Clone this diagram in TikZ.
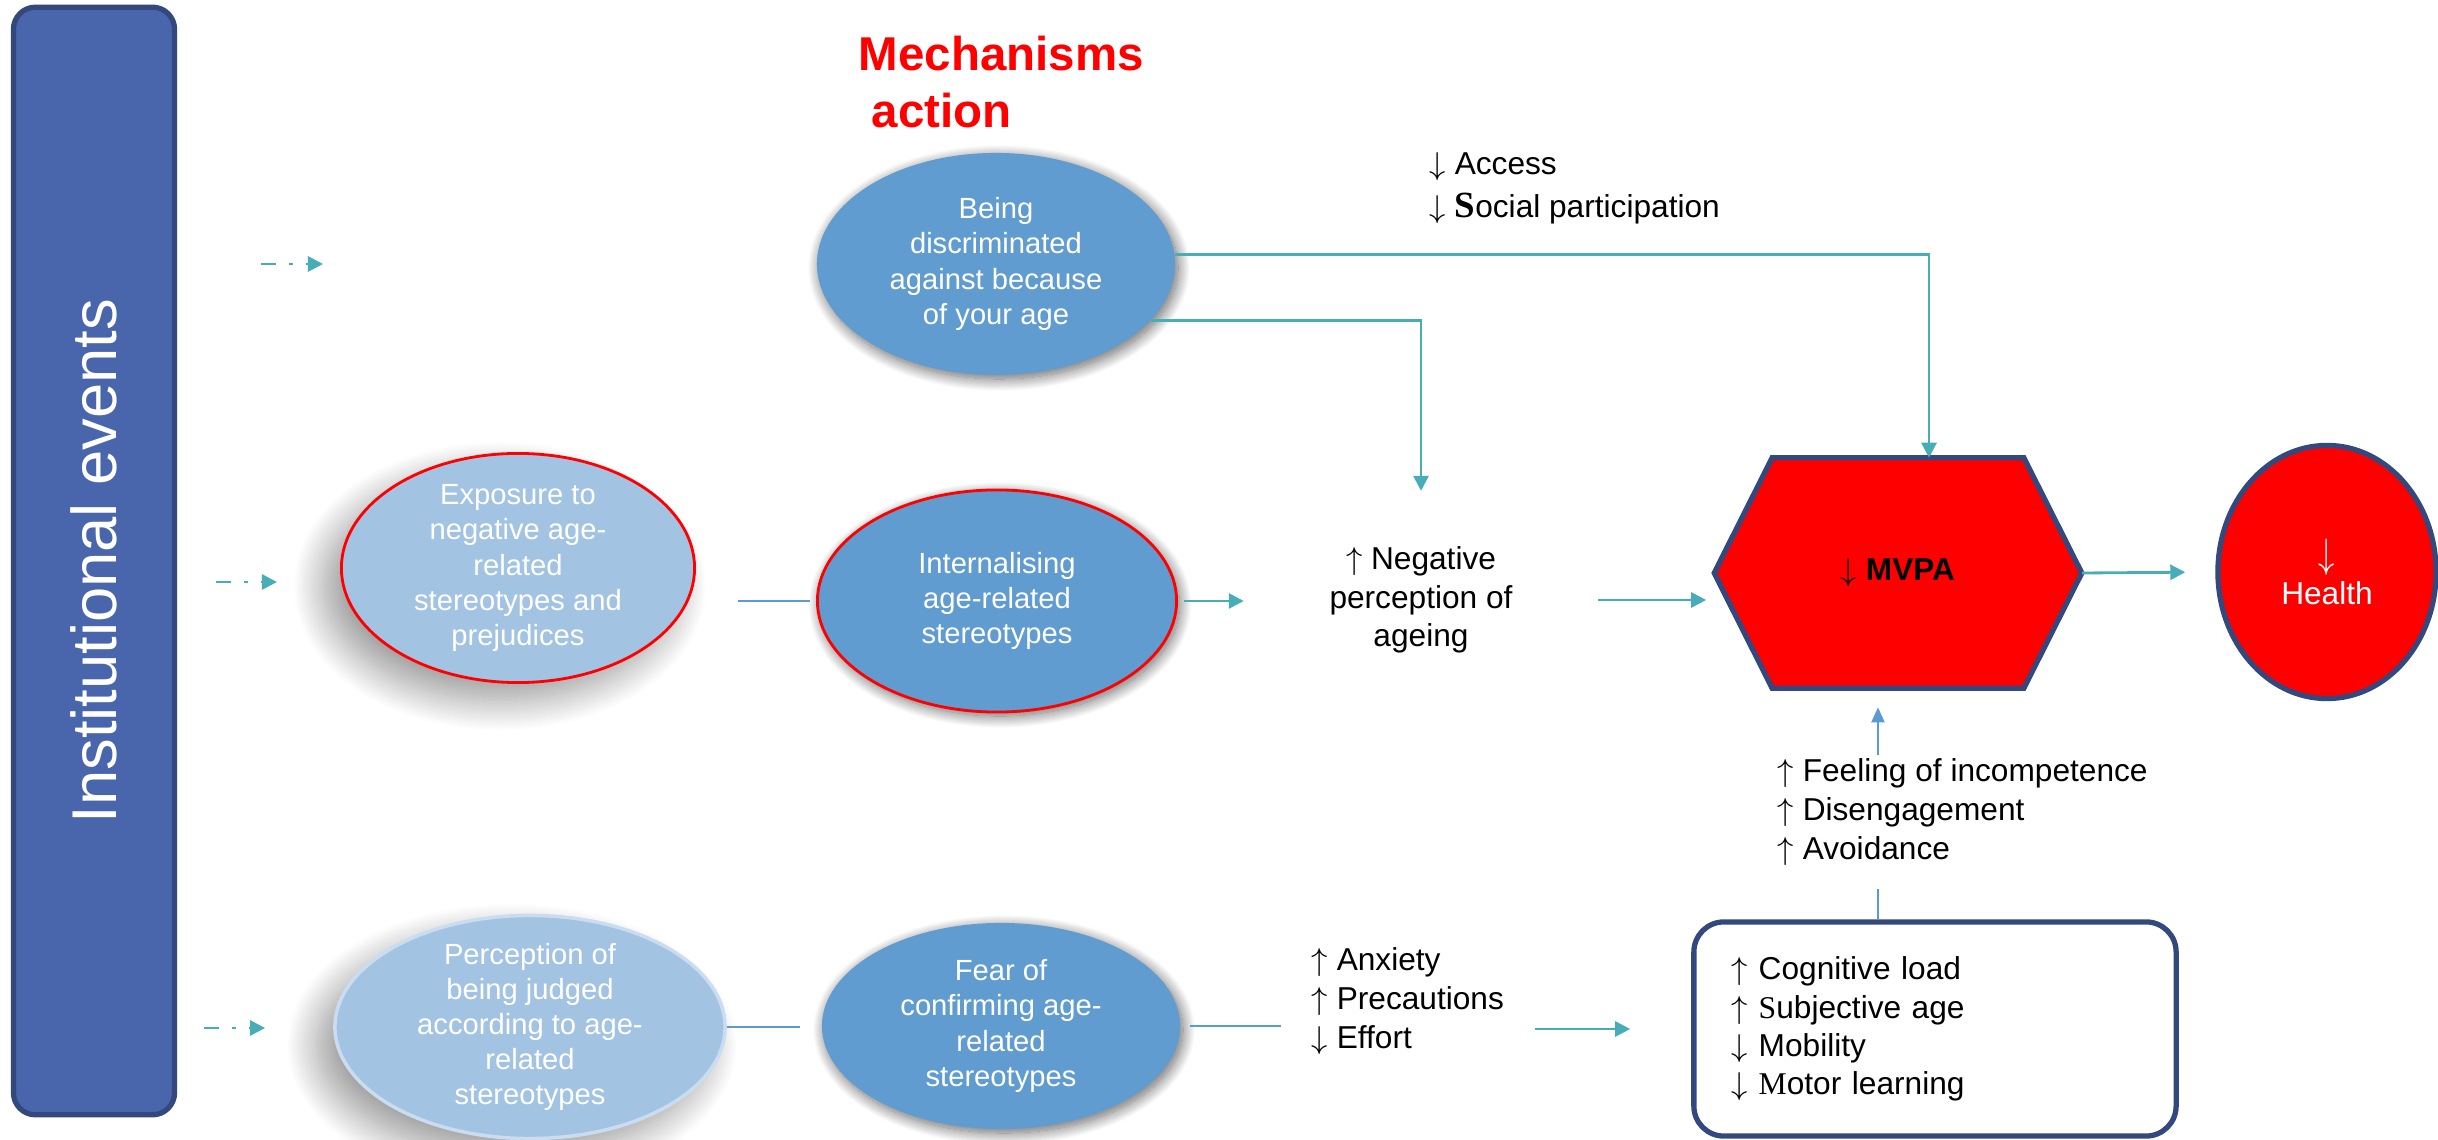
\documentclass[tikz,border=0pt]{standalone}
\usepackage{fontspec}
\setmainfont{Liberation Sans}
\newfontfamily\serifface{Liberation Serif}
\usetikzlibrary{shapes.geometric, arrows.meta, positioning, calc, backgrounds, shadows.blur}
\definecolor{boxblue}{HTML}{4966AC}
\definecolor{edgeblue}{HTML}{33487C}
\definecolor{midblue}{HTML}{609CCF}
\definecolor{paleblue}{HTML}{A3C3E2}
\definecolor{rimblue}{HTML}{C9DCF0}
\definecolor{lineblue}{HTML}{5B9BD5}
\definecolor{tealarrow}{HTML}{48ADB6}
\newcommand{\incr}{$\uparrow$}
\newcommand{\decr}{$\downarrow$}

\begin{document}
\begin{tikzpicture}[x=0.01cm, y=-0.01cm,
  mech/.style={ellipse, fill=midblue, text=white, align=center, inner sep=-0.2cm,
    font=\fontsize{8.3}{10}\selectfont,
    blur shadow={shadow xshift=0.03cm, shadow yshift=-0.04cm, shadow blur radius=0.12cm, shadow blur steps=20, shadow opacity=60}},
  cue/.style={ellipse, fill=paleblue, text=white, align=center, inner sep=-0.2cm,
    font=\fontsize{8.3}{10}\selectfont,
    blur shadow={shadow xshift=-0.18cm, shadow yshift=-0.18cm, shadow blur radius=0.3cm, shadow blur steps=30, shadow opacity=40}},
  lbl/.style={align=left, font=\fontsize{9}{11}\selectfont},
  flow/.style={tealarrow, line width=0.8pt, -{Triangle[length=0.15cm,width=0.15cm]}},
  link/.style={lineblue, line width=0.6pt},
  dashdot/.style={flow, dash pattern=on 0.15cm off 0.13cm on 0.04cm off 0.13cm}]
\useasboundingbox (0,0) rectangle (2438,1140);

\node[rectangle, rounded corners=0.22cm, rotate=90, minimum width=11.07cm, minimum height=1.61cm, fill=boxblue, draw=edgeblue, line width=1.5pt, text=white, font=\fontsize{18}{20}\selectfont] (inst) at (94,561) {Institutional events};
\node[anchor=north west, inner sep=0pt, align=left, text=red, font=\fontsize{13.5}{16.3}\selectfont\bfseries] (title) at (858,35) {Mechanisms\\\hspace{0.13cm}action};

% three pathways
\node[mech, minimum width=3.58cm, minimum height=2.22cm] (being) at (996,264) {Being\\discriminated\\against because\\of your age};
\node[cue, draw=red, line width=0.8pt, minimum width=3.53cm, minimum height=2.29cm] (expo) at (518,568) {Exposure to\\negative age-\\related\\stereotypes and\\prejudices};
\node[mech, draw=red, line width=0.8pt, minimum width=3.59cm, minimum height=2.22cm] (inter) at (997,601) {Internalising\\age-related\\stereotypes};
\node[cue, draw=rimblue, line width=1pt, minimum width=3.9cm, minimum height=2.23cm] (perc) at (530,1027) {Perception of\\being judged\\according to age-\\related\\stereotypes};
\node[mech, minimum width=3.58cm, minimum height=2.06cm] (fear) at (1001,1026) {Fear of\\confirming age-\\related\\stereotypes};

\node[lbl, align=center, inner xsep=0.85cm, inner ysep=0.55cm] (neg) at (1421,600) {\incr{} Negative\\perception of\\ageing};
\node[lbl, anchor=west, inner sep=0pt, font=\fontsize{9}{12.2}\selectfont] (access) at (1429,188) {\decr{} Access\\\decr{} {\serifface\bfseries\fontsize{10.5}{12.2}\selectfont S}ocial participation};
\node[lbl, anchor=west, inner xsep=0.3cm] (anx) at (1281,1001) {\incr{} Anxiety\\\incr{} Precautions\\\decr{} Effort};
\node[lbl, draw=edgeblue, line width=1.5pt, rounded corners=0.3cm, text width=4.06cm, inner xsep=0.38cm, minimum height=2.14cm, font=\fontsize{9}{10.9}\selectfont] (box) at (1935,1029) {\incr{} Cognitive load\\\incr{} {\serifface S}ubjective age\\\decr{} Mobility\\\decr{} {\serifface M}otor learning};

\node[minimum width=3.66cm, minimum height=2.29cm, inner sep=0pt, font=\fontsize{9}{11}\selectfont] (mvpa) at (1898,573) {\decr{} \textbf{MVPA}};
\begin{scope}[on background layer]
\draw[fill=red, draw=edgeblue, line width=1.5pt] (mvpa.west) -- ($(mvpa.north west)+(58,0)$) -- ($(mvpa.north east)+(-58,0)$) -- (mvpa.east) -- ($(mvpa.south east)+(-58,0)$) -- ($(mvpa.south west)+(58,0)$) -- cycle;
\end{scope}
\node[ellipse, fill=red, draw=edgeblue, line width=1.5pt, minimum width=2.18cm, minimum height=2.53cm, text=white, align=center, font=\fontsize{9}{10.5}\selectfont] (health) at (2327,572) {\scalebox{1}[1.3]{\decr}\\Health};

\coordinate (dd1) at (261,264);
\coordinate (dd1end) at (323,264);
\coordinate (dd2) at (216,582);
\coordinate (dd3) at (204,1028);
\coordinate (rise) at (1878,0);

\draw[dashdot] (dd1) -- (dd1end);
\draw[dashdot, shorten >=0.63cm] (dd2) -- (dd2 -| expo.west);
\draw[dashdot, shorten >=0.68cm] (dd3) -- (dd3 -| perc.west);

\draw[link, shorten <=0.42cm, shorten >=0.06cm] (expo.east |- inter.west) -- (inter.west);
\draw[flow, shorten <=0.06cm] (inter.east) -- (inter.east -| neg.west);
\draw[flow, shorten >=0.08cm] (neg.east) -- (neg.east -| mvpa.west);
\draw[flow, shorten >=0.3cm] (mvpa.east) -- (health.west);
\draw[flow] (being.3) -| ($(mvpa.north)+(31,0)$);
\draw[flow] (being.-20) -| (neg.north);

\draw[link, shorten >=0.21cm] (perc.east) -- (perc.east -| fear.west);
\draw[link, shorten <=0.09cm] (fear.east) -- (fear.east -| anx.west);
\draw[flow, shorten >=0.61cm] (anx.east |- box.west) -- (box.west);

\node[lbl, anchor=west, fill=white, inner sep=0.02cm, font=\fontsize{9}{11.2}\selectfont] (feel) at (1775,812) {\incr{} Feeling of incompetence\\\incr{} Disengagement\\\incr{} Avoidance};
\draw[link, shorten >=0.2cm] (box.north -| rise) -- (feel.south -| rise);
\draw[link, -{Triangle[length=0.15cm,width=0.13cm]}, shorten >=0.19cm] (feel.north -| rise) -- (mvpa.south -| rise);
\end{tikzpicture}
\end{document}
